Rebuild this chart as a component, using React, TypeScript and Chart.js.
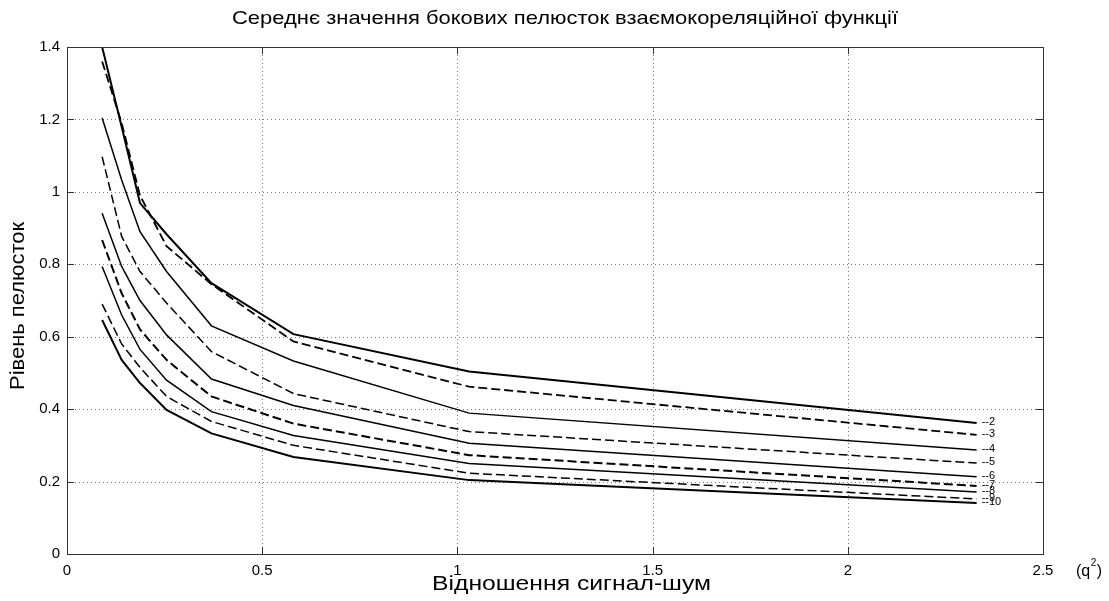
import React, { useEffect, useRef } from "react";
import { Chart, registerables } from "chart.js";

Chart.register(...registerables);

const titleText = "Середнє значення бокових пелюсток взаємокореляційної функції";
const xTitle = "Відношення сигнал-шум";
const yTitle = "Рівень пелюсток";

const xTicks = [0, 0.5, 1, 1.5, 2, 2.5];
const yTicks = [0, 0.2, 0.4, 0.6, 0.8, 1, 1.2, 1.4];

const xValues = [0.09, 0.14, 0.187, 0.255, 0.37, 0.58, 1.03, 2.33];
const curveLabels = ["--2", "--3", "--4", "--5", "--6", "--7", "--8", "--9", "--10"];

const s2 = [1.4, 1.18, 0.969, 0.883, 0.748, 0.607, 0.504, 0.362];
const s3 = [1.36, 1.19, 0.99, 0.85, 0.745, 0.587, 0.462, 0.329];
const s4 = [1.204, 1.033, 0.89, 0.78, 0.63, 0.533, 0.389, 0.287];
const s5 = [1.097, 0.877, 0.78, 0.693, 0.559, 0.443, 0.338, 0.251];
const s6 = [0.941, 0.794, 0.7, 0.605, 0.483, 0.41, 0.306, 0.213];
const s7 = [0.867, 0.72, 0.62, 0.536, 0.435, 0.36, 0.273, 0.188];
const s8 = [0.794, 0.66, 0.565, 0.48, 0.393, 0.327, 0.25, 0.171];
const s9 = [0.69, 0.58, 0.515, 0.435, 0.366, 0.3, 0.223, 0.152];
const s10 = [0.646, 0.536, 0.472, 0.398, 0.333, 0.268, 0.204, 0.141];

const seriesValues = [s2, s3, s4, s5, s6, s7, s8, s9, s10];
const dashed = [false, true, false, true, false, true, false, true, false];
const widths = [2, 1.8, 1.5, 1.5, 1.5, 2, 1.5, 1.5, 2];

const FONT = "'Liberation Sans', Arial, Helvetica, sans-serif";

function drawFitted(ctx: any, text: string, cx: number, cy: number, size: number, target: number) {
  ctx.save();
  ctx.font = `${size}px ${FONT}`;
  ctx.textAlign = "center";
  ctx.textBaseline = "middle";
  const w = ctx.measureText(text).width;
  const sx = target / w;
  ctx.translate(cx, cy);
  ctx.scale(sx, 1);
  ctx.fillText(text, 0, 0);
  ctx.restore();
}

const decorPlugin = {
  id: "decor",
  beforeDatasetsDraw(chart: any) {
    const { ctx, chartArea } = chart;
    const xs = chart.scales.x;
    const ys = chart.scales.y;
    ctx.save();
    ctx.strokeStyle = "#777";
    ctx.lineWidth = 1;
    ctx.setLineDash([1, 3]);
    xTicks.forEach((t) => {
      const px = Math.round(xs.getPixelForValue(t)) + 0.5;
      ctx.beginPath();
      ctx.moveTo(px, chartArea.top);
      ctx.lineTo(px, chartArea.bottom);
      ctx.stroke();
    });
    yTicks.forEach((t) => {
      const py = Math.round(ys.getPixelForValue(t)) + 0.5;
      ctx.beginPath();
      ctx.moveTo(chartArea.left, py);
      ctx.lineTo(chartArea.right, py);
      ctx.stroke();
    });
    ctx.restore();
  },
  afterDraw(chart: any) {
    const { ctx, chartArea } = chart;
    const xs = chart.scales.x;
    const ys = chart.scales.y;
    ctx.save();
    ctx.strokeStyle = "#333";
    ctx.lineWidth = 1;
    ctx.setLineDash([]);
    ctx.strokeRect(
      Math.round(chartArea.left) + 0.5,
      Math.round(chartArea.top) + 0.5,
      Math.round(chartArea.right - chartArea.left),
      Math.round(chartArea.bottom - chartArea.top)
    );
    const tl = 7;
    xTicks.forEach((t) => {
      const px = Math.round(xs.getPixelForValue(t)) + 0.5;
      ctx.beginPath();
      ctx.moveTo(px, chartArea.bottom);
      ctx.lineTo(px, chartArea.bottom - tl);
      ctx.moveTo(px, chartArea.top);
      ctx.lineTo(px, chartArea.top + tl);
      ctx.stroke();
    });
    yTicks.forEach((t) => {
      const py = Math.round(ys.getPixelForValue(t)) + 0.5;
      ctx.beginPath();
      ctx.moveTo(chartArea.left, py);
      ctx.lineTo(chartArea.left + tl, py);
      ctx.moveTo(chartArea.right, py);
      ctx.lineTo(chartArea.right - tl, py);
      ctx.stroke();
    });

    ctx.fillStyle = "#000";
    ctx.font = `11px ${FONT}`;
    ctx.textAlign = "left";
    ctx.textBaseline = "middle";
    seriesValues.forEach((vals, i) => {
      const last = vals.length - 1;
      const px = xs.getPixelForValue(xValues[last]);
      const py = ys.getPixelForValue(vals[last]);
      ctx.fillText(curveLabels[i], px + 5, py - 1);
    });

    drawFitted(ctx, titleText, 565, 19, 18.5, 666);
    drawFitted(ctx, xTitle, 571.5, 584, 20.5, 279);

    ctx.save();
    ctx.translate(18, 306);
    ctx.rotate(-Math.PI / 2);
    drawFitted(ctx, yTitle, 0, 0, 20, 168);
    ctx.restore();

    ctx.textAlign = "left";
    ctx.textBaseline = "alphabetic";
    ctx.font = `16px ${FONT}`;
    ctx.fillText("(q", 1076, 576);
    const w1 = ctx.measureText("(q").width;
    ctx.font = `10px ${FONT}`;
    ctx.fillText("2", 1076 + w1 + 0.5, 566);
    const w2 = ctx.measureText("2").width;
    ctx.font = `16px ${FONT}`;
    ctx.fillText(")", 1076 + w1 + w2 + 1, 576);
    ctx.restore();
  },
};

export default function App() {
  const ref = useRef<HTMLCanvasElement>(null);
  useEffect(() => {
    if (!ref.current) return;
    const datasets = seriesValues.map((vals, i) => ({
      label: curveLabels[i],
      data: vals.map((v, j) => ({ x: xValues[j], y: v })),
      borderColor: "#000",
      backgroundColor: "#000",
      borderWidth: widths[i],
      borderDash: dashed[i] ? [9, 4] : [],
      pointRadius: 0,
      tension: 0,
      fill: false,
    }));
    const fmt = (v: any) => String(Number(Number(v).toFixed(2)));
    const chart = new Chart(ref.current, {
      type: "line",
      data: { datasets },
      options: {
        animation: false,
        responsive: false,
        maintainAspectRatio: false,
        layout: { padding: { left: 0, top: 47, right: 66, bottom: 0 } },
        plugins: {
          legend: { display: false },
          tooltip: { enabled: false },
          title: { display: false },
        },
        scales: {
          x: {
            type: "linear",
            min: 0,
            max: 2.5,
            afterBuildTicks: (s: any) => {
              s.ticks = xTicks.map((v) => ({ value: v }));
            },
            afterFit: (s: any) => {
              s.height = 47;
            },
            grid: { display: false, drawTicks: false },
            border: { display: false },
            ticks: {
              padding: 8,
              color: "#000",
              font: { family: FONT, size: 15 },
              callback: fmt,
              maxRotation: 0,
            },
          },
          y: {
            type: "linear",
            min: 0,
            max: 1.4,
            afterBuildTicks: (s: any) => {
              s.ticks = yTicks.map((v) => ({ value: v }));
            },
            afterFit: (s: any) => {
              s.width = 67;
            },
            grid: { display: false, drawTicks: false },
            border: { display: false },
            ticks: {
              padding: 7,
              color: "#000",
              font: { family: FONT, size: 15 },
              callback: fmt,
            },
          },
        },
      },
      plugins: [decorPlugin],
    } as any);
    return () => chart.destroy();
  }, []);
  return (
    <div style={{ position: "absolute", left: 0, top: 0, width: 1109, height: 601, background: "#fff" }}>
      <canvas ref={ref} width={1109} height={601} style={{ display: "block" }} />
    </div>
  );
}
